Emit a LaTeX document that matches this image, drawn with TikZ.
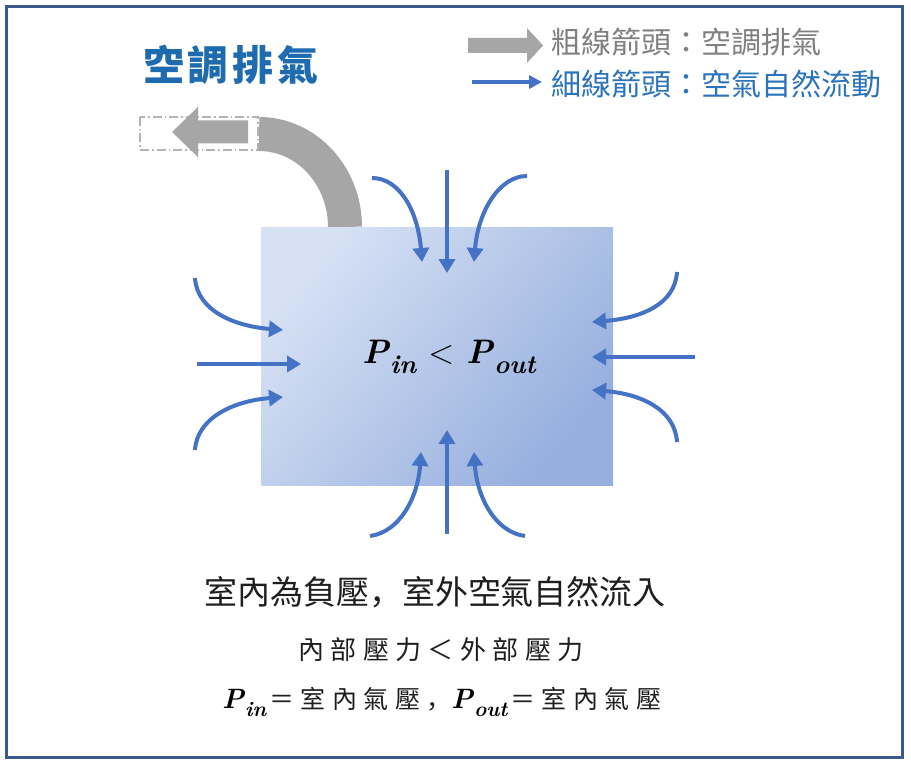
\documentclass[tikz,border=0pt]{standalone}
\usepackage{fontspec}
\usetikzlibrary{arrows.meta}
\newfontfamily\cjk{Noto Sans CJK TC}
\newfontfamily\cjkjp{Noto Sans CJK JP}
\definecolor{framec}{RGB}{59,89,140}
\definecolor{flowc}{RGB}{68,114,196}
\definecolor{exh}{RGB}{166,166,166}
\definecolor{ttlc}{RGB}{30,107,176}
\definecolor{legblue}{RGB}{43,115,186}
\definecolor{leggray}{RGB}{128,128,128}
\definecolor{roomA}{RGB}{214,225,244}
\definecolor{roomB}{RGB}{150,175,222}
\definecolor{txt}{RGB}{30,30,30}
\pgfdeclarehorizontalshading{roomshade}{100bp}{color(0bp)=(roomA); color(25bp)=(roomA); color(75bp)=(roomB); color(100bp)=(roomB)}
\newcommand{\pbox}[2]{\makebox[#1]{#2}}
\newcommand{\Pv}[3]{{\fontsize{#1}{#1}\selectfont\bfseries\itshape P\kern1pt\raisebox{-0.3em}{\fontsize{#2}{#2}\selectfont\bfseries\itshape #3}}}
\tikzset{
  flow/.style={draw=flowc, line width=4pt, -{Triangle[length=14pt,width=16pt]}},
  legflow/.style={draw=flowc, line width=3.5pt, -{Triangle[length=13pt,width=13pt]}},
  room/.style={rectangle, minimum width=352pt, minimum height=258pt, inner sep=0pt, shade, shading=roomshade, shading angle=-40},
  plain/.style={inner sep=0pt, outer sep=0pt},
}
\begin{document}
\begin{tikzpicture}[x=1pt,y=-1pt]
\useasboundingbox (0,0) rectangle (911,765);
\fill[white] (0,0) rectangle (911,765);
\draw[draw=framec, line width=3pt] (6.5,6.5) rectangle (902.5,757.5);

% title
\node[plain, font=\cjk\bfseries\fontsize{41}{48}\selectfont, text=ttlc] (ttl) at (231,65)
  {\pbox{45pt}{空}\pbox{45pt}{調}\pbox{45pt}{排}\pbox{45pt}{氣}};

% legend
\fill[exh] (468,38)--(527,38)--(527,28)--(543,45.5)--(527,63)--(527,53)--(468,53)--cycle;
\node[plain, anchor=west, font=\cjk\fontsize{30}{36}\selectfont, text=leggray] (lg1) at (551,42) {粗線箭頭：空調排氣};
\coordinate (lgs) at (472,82);
\coordinate (lge) at (542,82);
\draw[legflow] (lgs) -- (lge);
\node[plain, anchor=west, font=\cjk\fontsize{30}{36}\selectfont, text=legblue] (lg2) at (551,84) {細線箭頭：空氣自然流動};

% exhaust
\draw[draw=exh!85, line width=1.2pt, fill=white, dash pattern=on 9pt off 3pt on 1.5pt off 3pt] (140,117) rectangle (258,150);
\fill[exh] (248,120.5)--(198,120.5)--(198,107)--(172,132)--(198,157)--(198,143.5)--(248,143.5)--cycle;
\draw[draw=exh, line width=34pt] (345,227) arc[start angle=0, end angle=-90, x radius=86, y radius=93];

% room
\node[room] (room) at (437,356) {};
\node[plain, anchor=base, font=\fontsize{34}{40}\selectfont] (prel) at (449,363)
  {\Pv{34pt}{26pt}{in}\hspace{12pt}<\hspace{12pt}\Pv{34pt}{26pt}{out}};

% flow coordinates
\coordinate (t1s) at (372,178); \coordinate (t1e) at (422,262);
\coordinate (t2s) at (447,170); \coordinate (t2e) at (447,273);
\coordinate (t3s) at (527,176); \coordinate (t3e) at (474,262);
\coordinate (b1s) at (370,536); \coordinate (b1e) at (421,452);
\coordinate (b2s) at (447,534); \coordinate (b2e) at (447,430);
\coordinate (b3s) at (525,536); \coordinate (b3e) at (474,452);
\coordinate (l1s) at (195,278); \coordinate (l1e) at (283,330);
\coordinate (l2s) at (197,364); \coordinate (l2e) at (301,364);
\coordinate (l3s) at (195,450); \coordinate (l3e) at (283,397);
\coordinate (r1s) at (677,272); \coordinate (r1e) at (592,322);
\coordinate (r2s) at (695,357); \coordinate (r2e) at (592,357);
\coordinate (r3s) at (677,442); \coordinate (r3e) at (592,390);

\draw[flow] (t1s) .. controls +(28,0) and +(-4,-50) .. (t1e);
\draw[flow] (t2s) -- (t2e);
\draw[flow] (t3s) .. controls +(-28,0) and +(4,-50) .. (t3e);
\draw[flow] (b1s) .. controls +(30,-4) and +(-3,45) .. (b1e);
\draw[flow] (b2s) -- (b2e);
\draw[flow] (b3s) .. controls +(-30,-4) and +(3,45) .. (b3e);
\draw[flow] (l1s) .. controls +(2,32) and +(-50,-4) .. (l1e);
\draw[flow] (l2s) -- (l2e);
\draw[flow] (l3s) .. controls +(2,-32) and +(-50,4) .. (l3e);
\draw[flow] (r1s) .. controls +(-2,32) and +(50,-4) .. (r1e);
\draw[flow] (r2s) -- (r2e);
\draw[flow] (r3s) .. controls +(-2,-32) and +(50,4) .. (r3e);

% bottom texts
\node[plain, font=\cjk\fontsize{33}{40}\selectfont, text=txt] (c1) at (435,592) {室內為負壓{\cjkjp ，}室外空氣自然流入};
\node[plain, font=\cjk\fontsize{26}{32}\selectfont, text=txt] (c2) at (441,650)
  {\pbox{32.4pt}{內}\pbox{32.4pt}{部}\pbox{32.4pt}{壓}\pbox{32.4pt}{力}\pbox{32.4pt}{＜}\pbox{32.4pt}{外}\pbox{32.4pt}{部}\pbox{32.4pt}{壓}\pbox{32.4pt}{力}};
\node[plain, anchor=base west] (c3a) at (222,708) {\Pv{28pt}{21pt}{in}};
\node[plain, anchor=base west, font=\cjk\fontsize{25}{30}\selectfont, text=txt] (c3b) at (266,708)
  {\pbox{31.5pt}{＝}\pbox{31.5pt}{室}\pbox{31.5pt}{內}\pbox{31.5pt}{氣}\pbox{31.5pt}{壓}\pbox{31.5pt}{\cjkjp ，}};
\node[plain, anchor=base west] (c3c) at (451,708) {\Pv{28pt}{21pt}{out}};
\node[plain, anchor=base west, font=\cjk\fontsize{25}{30}\selectfont, text=txt] (c3d) at (507,708)
  {\pbox{31.5pt}{＝}\pbox{31.5pt}{室}\pbox{31.5pt}{內}\pbox{31.5pt}{氣}\pbox{31.5pt}{壓}};
\end{tikzpicture}
\end{document}
